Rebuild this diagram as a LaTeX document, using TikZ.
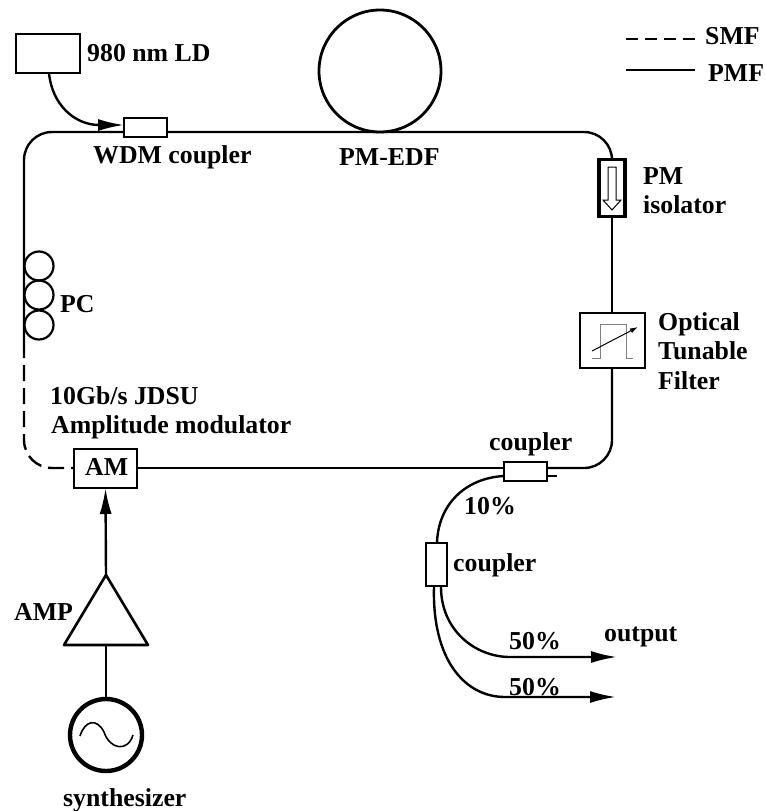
\documentclass[tikz,border=0pt]{standalone}
\usepackage{fontspec}
\setmainfont{Liberation Serif}
\usetikzlibrary{arrows.meta, calc, positioning}
\tikzset{
    lbl/.style={anchor=base west, inner sep=0pt, font=\bfseries\fontsize{25.8}{30}\selectfont},
    fibre/.style={line width=2.4pt},
    smf/.style={line width=2.4pt, dash pattern=on 16pt off 7pt},
    devbox/.style={draw, line width=2.6pt, fill=white, inner sep=0pt, outer sep=0pt},
    tip/.style={-{Latex[length=26pt, width=12pt]}}
}
\begin{document}
\begin{tikzpicture}[x=1pt, y=-1pt]
    \useasboundingbox (0,0) rectangle (764,811);

    % Fibre coil and legend
    \node[draw, circle, line width=2.8pt, minimum size=122pt, inner sep=0pt] (edf) at (380,71) {};
    \coordinate (smfa) at (626,39);
    \coordinate (smfb) at (695,39);
    \coordinate (pmfa) at (626,70);
    \coordinate (pmfb) at (695,70);
    \draw[line width=2.4pt, dash pattern=on 12pt off 7pt] (smfa) -- (smfb);
    \draw[fibre] (pmfa) -- (pmfb);

    % Loop corners
    \coordinate (topleft) at (24,132);
    \coordinate (topright) at (612,132);
    \coordinate (botright) at (612,468);
    \coordinate (botleft) at (24,468);
    \coordinate (pcend) at (24,342);

    % Main loop
    \draw[fibre, rounded corners=28pt] (pcend) -- (topleft) -- (topright) -- (612,160);
    \draw[fibre] (612,215) -- (612,315);
    \draw[fibre, rounded corners=28pt] (612,366) -- (botright) -- (504,468);
    \draw[fibre] (504,468) -- (137,468);
    \draw[smf, rounded corners=28pt] (pcend) -- (botleft) -- (74,468);

    % Devices on the loop
    \node[devbox, minimum width=64pt, minimum height=39pt] (ld) at (48,53.5) {};
    \node[devbox, minimum width=43pt, minimum height=19pt] (wdm) at (145.5,127.5) {};
    \node[devbox, line width=3.6pt, minimum width=26pt, minimum height=57pt] (iso) at (612,188) {};
    \node[devbox, minimum width=65pt, minimum height=55pt] (filter) at (612.5,340.5) {};
    \node[devbox, minimum width=43pt, minimum height=19pt] (outcpl) at (525.5,471.5) {};
    \node[devbox, minimum width=21pt, minimum height=43pt] (splitter) at (436.5,564.5) {};
    \node[devbox, minimum width=63pt, minimum height=39pt] (am) at (105.5,468.5) {};

    % Pump and polarisation controller
    \draw[fibre, tip] (49,73) .. controls (52,105) and (75,125) .. (124,125);
    \foreach \y/\pcname in {266/pca, 295/pcb, 325/pcc} {
        \node[draw, circle, line width=2.2pt, minimum size=29pt, inner sep=0pt] (\pcname) at (39,\y) {};
    }

    % Isolator and filter symbols
    \draw[line width=1pt] (608,167) -- (608,200) -- (603,200) -- (612,210) -- (621,200) -- (616,200) -- (616,167) -- cycle;
    \draw[gray, line width=1pt] (592,358) -- (600,358) -- (600,324) -- (626,324) -- (626,358) -- (633,358);
    \draw[line width=1pt, -{Latex[length=8pt, width=5pt]}] (592,351) -- (638,327);

    % Output branches
    \draw[fibre] (547,476) -- (557,476);
    \draw[fibre] (504,476) .. controls (465,478) and (438,505) .. (437,543);
    \draw[fibre, tip] (441,587) .. controls (441,630) and (475,657) .. (510,657) -- (617,657);
    \draw[fibre, tip] (434,587) .. controls (432,660) and (465,697) .. (505,697) -- (616,697);

    % Drive chain
    \coordinate (amptop) at (106,575);
    \coordinate (ampbase) at (106,645);
    \draw[line width=2.6pt, line join=round] (amptop) -- (64,645) -- (148,645) -- cycle;
    \node[draw, circle, line width=4.4pt, minimum size=72pt, inner sep=0pt] (synth) at (106,735) {};
    \draw[fibre, tip] (amptop) -- (am.south);
    \draw[fibre] (ampbase) -- (synth.north);
    \draw[line width=1.6pt] (80,736) .. controls (85,720) and (97,718) .. (104,732) .. controls (110,750) and (128,752) .. (133,735);

    % Labels
    \node[lbl] (ldlabel) at (87,61) {980 nm LD};
    \node[lbl] (wdmlabel) at (93,163) {WDM coupler};
    \node[lbl] (edflabel) at (339,165) {PM-EDF};
    \node[lbl] (smflabel) at (705,44) {SMF};
    \node[lbl] (pmflabel) at (708,81) {PMF};
    \node[lbl] (isolabela) at (643,184) {PM};
    \node[lbl] (isolabelb) at (643,213) {isolator};
    \node[lbl] (filterlabela) at (658,330) {Optical};
    \node[lbl] (filterlabelb) at (658,359) {Tunable};
    \node[lbl] (filterlabelc) at (658,389) {Filter};
    \node[lbl] (pclabel) at (60,312) {PC};
    \node[lbl] (amlabela) at (50,404) {10Gb/s JDSU};
    \node[lbl] (amlabelb) at (51,433) {Amplitude modulator};
    \node[lbl] (amtext) at (85,475) {AM};
    \node[lbl] (amplabel) at (14,620) {AMP};
    \node[lbl] (synthlabel) at (63,806) {synthesizer};
    \node[lbl] (cpllabela) at (489,450) {coupler};
    \node[lbl] (tenlabel) at (464,514) {10\%};
    \node[lbl] (cpllabelb) at (453,571) {coupler};
    \node[lbl] (fiftya) at (509,649) {50\%};
    \node[lbl] (fiftyb) at (509,695) {50\%};
    \node[lbl] (outlabel) at (604,641) {output};
\end{tikzpicture}
\end{document}
